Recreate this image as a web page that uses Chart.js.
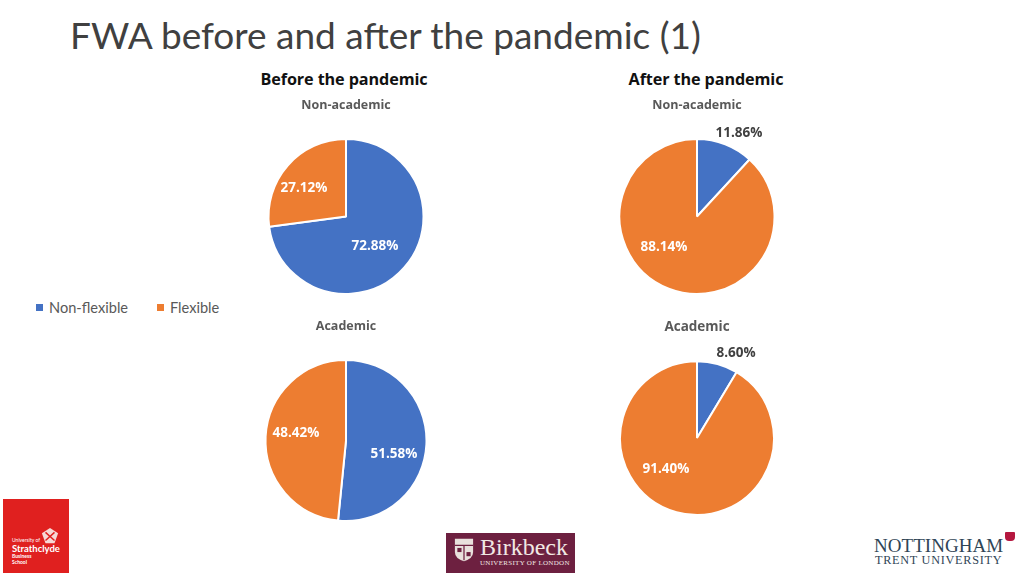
<!DOCTYPE html>
<html>
<head>
<meta charset="utf-8">
<script src="https://cdn.jsdelivr.net/npm/chart.js@4"></script>
<style>
    html, body { margin: 0; padding: 0; background: #fff; }
    body { position: relative; width: 1024px; height: 576px; overflow: hidden; font-family: "Open Sans", sans-serif; }
    canvas { position: absolute; }
    .txt { position: absolute; white-space: nowrap; }
    #pageTitle { left: 70px; top: 11px; font-size: 37px; font-weight: 400; color: #404040; font-family: "Lato", sans-serif; line-height: 48px; }
    .period { top: 68px; font-size: 16.2px; font-weight: 700; color: #111; font-family: "Open Sans", sans-serif; transform: translateX(-50%); letter-spacing: -0.1px; }
    #legend { position: absolute; left: 36px; top: 299px; font-size: 14.6px; color: #595959; font-family: "Lato", sans-serif; }
    #legend span.item { position: absolute; top: 0; white-space: nowrap; }
    #legend i { display: inline-block; width: 7px; height: 7px; margin-right: 6px; vertical-align: 2px; }
    #strath { position: absolute; left: 3px; top: 499px; width: 66px; height: 74px; background: #e0201f; color: #fff; font-family: "Lato", sans-serif; }
    #strath div { position: absolute; left: 9px; white-space: nowrap; }
    #bbk { position: absolute; left: 446px; top: 533px; width: 129px; height: 40px; background: #6d2040; color: #f1e8e4; font-family: "Liberation Serif", serif; }
    #bbk .name { position: absolute; left: 34px; top: 1px; font-size: 24px; white-space: nowrap; }
    #bbk .sub { position: absolute; left: 34px; top: 26px; font-size: 7px; letter-spacing: 0.3px; white-space: nowrap; }
    #ntu .a, #ntu .b { position: absolute; white-space: nowrap; color: #2f4556; font-family: "Liberation Serif", serif; }
    #ntu .a { left: 874px; top: 535px; font-size: 19px; letter-spacing: 0.05px; }
    #ntu .b { left: 875px; top: 553px; font-size: 12.2px; letter-spacing: 0.75px; }
    #ntu .badge { position: absolute; left: 1005px; top: 532px; width: 10px; height: 9px; background: #b5173f; border-radius: 1px 1px 4px 4px; }
</style>
</head>
<body>
<div id="pageTitle" class="txt">FWA before and after the pandemic (1)</div>
<div class="txt period" style="left:344px">Before the pandemic</div>
<div class="txt period" style="left:706px">After the pandemic</div>

<canvas id="pieBeforeNon" width="200" height="200" style="left:246px;top:95px"></canvas>
<canvas id="pieAfterNon" width="200" height="200" style="left:597px;top:95px"></canvas>
<canvas id="pieBeforeAcad" width="200" height="206" style="left:246px;top:316px"></canvas>
<canvas id="pieAfterAcad" width="200" height="200" style="left:597px;top:316px"></canvas>

<div id="legend"></div>

<div id="strath">
    <svg style="position:absolute;left:37px;top:28px" width="20" height="18" viewBox="0 0 20 20">
        <path d="M10 1 L19 7 L15 18 L5 18 L1 7 Z" fill="#f6d9d6"/>
        <path d="M5 6 L15 15 M15 6 L5 15" stroke="#e0201f" stroke-width="1.6"/>
    </svg>
    <div style="top:38px;font-size:5px">University of</div>
    <div style="top:44px;font-size:9.5px;font-weight:700">Strathclyde</div>
    <div style="top:55px;font-size:5px;font-weight:700;line-height:5.5px">Business<br>School</div>
</div>

<div id="bbk">
    <svg style="position:absolute;left:7px;top:5px" width="22" height="24" viewBox="0 0 24 29">
        <path d="M1 1 H23 V17 Q23 25 12 28 Q1 25 1 17 Z" fill="#e9e0dc"/>
        <path d="M1 9 H23 M12 9 V27" stroke="#6d2040" stroke-width="1.5"/>
        <rect x="4" y="12" width="5" height="5" fill="#6d2040"/>
        <rect x="15" y="17" width="5" height="5" fill="#6d2040"/>
    </svg>
    <div class="name">Birkbeck</div>
    <div class="sub">UNIVERSITY OF LONDON</div>
</div>

<div id="ntu">
    <div class="a">NOTTINGHAM</div>
    <div class="b">TRENT UNIVERSITY</div>
    <div class="badge"></div>
</div>

<script>
// Data
const categories = ['Non-flexible', 'Flexible'];
const colours = ['#4472c4', '#ed7d31'];
const beforeNonAcademic = [72.88, 27.12];
const afterNonAcademic = [11.86, 88.14];
const beforeAcademic = [51.58, 48.42];
const afterAcademic = [8.60, 91.40];

// Draws the percent labels, offsets are from the pie centre
const percentLabels = {
    id: 'percentLabels',
    afterDatasetsDraw(chart, args, opts) {
        const ctx = chart.ctx;
        const values = chart.data.datasets[0].data;
        const arcs = chart.getDatasetMeta(0).data;
        ctx.save();
        ctx.font = '700 13.5px "Open Sans", sans-serif';
        ctx.textAlign = 'center';
        ctx.textBaseline = 'middle';
        values.forEach((v, i) => {
            ctx.fillStyle = opts.colors[i];
            ctx.fillText(v.toFixed(2) + '%', arcs[i].x + opts.offsets[i][0], arcs[i].y + opts.offsets[i][1]);
        });
        ctx.restore();
    }
};

function makePie(id, title, values, offsets, labelColors, bottomPad, titleSize) {
    const ctx = document.getElementById(id).getContext('2d');
    new Chart(ctx, {
        type: 'pie',
        data: {
            labels: categories,
            datasets: [{
                data: values,
                backgroundColor: colours,
                borderColor: '#ffffff',
                borderWidth: 2
            }]
        },
        options: {
            responsive: false,
            animation: false,
            layout: { padding: 0 },
            plugins: {
                legend: { display: false },
                tooltip: { enabled: false },
                title: {
                    display: true,
                    text: title,
                    color: '#595959',
                    font: { size: titleSize, weight: '700', family: '"Open Sans", sans-serif' },
                    padding: { top: 3, bottom: bottomPad }
                },
                percentLabels: { offsets: offsets, colors: labelColors }
            }
        },
        plugins: [percentLabels]
    });
}

const white = '#ffffff';
const dark = '#404040';

// Pies
makePie('pieBeforeNon', 'Non-academic', beforeNonAcademic, [[29, 30], [-42, -28]], [white, white], 25, 12.5);
makePie('pieAfterNon', 'Non-academic', afterNonAcademic, [[42, -83], [-33, 31]], [dark, white], 25, 12.5);
makePie('pieBeforeAcad', 'Academic', beforeAcademic, [[48, 14], [-50, -7]], [white, white], 25, 12.5);
makePie('pieAfterAcad', 'Academic', afterAcademic, [[39, -85], [-31, 31]], [dark, white], 25, 13.5);

// Shared legend
const legendEl = document.getElementById('legend');
const legendX = [0, 121];
categories.forEach((name, i) => {
    const item = document.createElement('span');
    item.className = 'item';
    item.style.left = legendX[i] + 'px';
    item.innerHTML = '<i style="background:' + colours[i] + '"></i>' + name;
    legendEl.appendChild(item);
});
</script>
</body>
</html>
